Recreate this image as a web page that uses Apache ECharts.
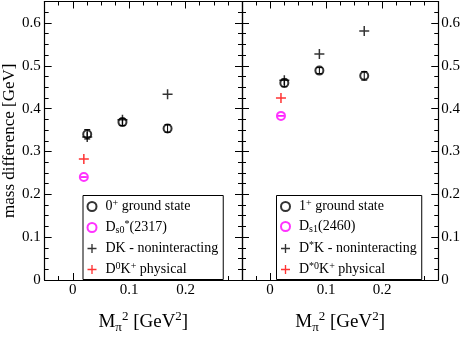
<!DOCTYPE html>
<html lang="en">
<head>
<meta charset="UTF-8">
<title>mass difference vs Mpi^2</title>
<script src="https://cdn.jsdelivr.net/npm/echarts@6/dist/echarts.min.js"></script>
<style>
  html, body { margin: 0; padding: 0; background: #fff; }
  #chart { width: 463px; height: 339px; }
</style>
</head>
<body>
<div id="chart"></div>
<script>
  // lattice ensembles, M_pi^2 in GeV^2
  var xLat = [0.0255, 0.088, 0.168];
  var xPhys = 0.0195;

  // left panel: 0+ channel
  var gs0 = [0.340, 0.3685, 0.3537];
  var gs0Err = [0.011, 0.008, 0.009];
  var dk0 = [0.334, 0.374, 0.4337];
  var ds0Exp = 0.2403;
  var dkPhys0 = 0.2823;

  // right panel: 1+ channel
  var gs1 = [0.460, 0.4887, 0.4765];
  var gs1Err = [0.009, 0.007, 0.010];
  var dk1 = [0.466, 0.5276, 0.581];
  var ds1Exp = 0.383;
  var dkPhys1 = 0.4247;
  var expErr = 0.0005;

  var names0 = ['0+ ground state', 'Ds0*(2317)', 'DK - noninteracting', 'D0K+ physical'];
  var names1 = ['1+ ground state', 'Ds1(2460)', 'D*K - noninteracting', 'D*0K+ physical'];
  var legendRich = {
    '0+ ground state': '{n|0}{sup|+}{n| ground state}',
    'Ds0*(2317)': '{n|D}{sub|s0}{sup|*}{n|(2317)}',
    'DK - noninteracting': '{n|DK - noninteracting}',
    'D0K+ physical': '{n|D}{sup|0}{n|K}{sup|+}{n| physical}',
    '1+ ground state': '{n|1}{sup|+}{n| ground state}',
    'Ds1(2460)': '{n|D}{sub|s1}{n|(2460)}',
    'D*K - noninteracting': '{n|D}{sup|*}{n|K - noninteracting}',
    'D*0K+ physical': '{n|D}{sup|*0}{n|K}{sup|+}{n| physical}'
  };

  var FONT = 'Liberation Serif';
  var PLUS = 'path://M4.25,0H5.75V4.25H10V5.75H5.75V10H4.25V5.75H0V4.25H4.25Z';

  function pairs(xs, ys) {
    return xs.map(function (x, i) { return [x, ys[i]]; });
  }
  function bars(xs, ys, es) {
    return xs.map(function (x, i) { return [x, ys[i] - es[i], ys[i] + es[i]]; });
  }

  function renderErr(params, api) {
    var lo = api.coord([api.value(0), api.value(1)]);
    var hi = api.coord([api.value(0), api.value(2)]);
    var w = 3;
    var st = { stroke: api.visual('color'), lineWidth: 1 };
    return {
      type: 'group',
      children: [
        { type: 'line', shape: { x1: lo[0], y1: lo[1], x2: hi[0], y2: hi[1] }, style: st },
        { type: 'line', shape: { x1: lo[0] - w, y1: lo[1], x2: lo[0] + w, y2: lo[1] }, style: st },
        { type: 'line', shape: { x1: hi[0] - w, y1: hi[1], x2: hi[0] + w, y2: hi[1] }, style: st }
      ]
    };
  }

  var tick = { inside: true, length: 7, lineStyle: { color: '#000', width: 1 } };
  var minor = { show: true, splitNumber: 4, length: 4, lineStyle: { color: '#000', width: 1 } };
  var line = { onZero: false, lineStyle: { color: '#000', width: 1.2 } };
  var labelStyle = { color: '#000', fontSize: 15, fontFamily: FONT };

  var xName = '{m|M}{sub|π}{sup|2}{m| [GeV}{sup|2}{m|]}';
  var xNameStyle = {
    color: '#000', fontFamily: FONT, fontSize: 19,
    rich: {
      m: { fontSize: 19, fontFamily: FONT, color: '#000', lineHeight: 24 },
      sub: { fontSize: 13, fontFamily: FONT, color: '#000', lineHeight: 10, verticalAlign: 'bottom' },
      sup: { fontSize: 13, fontFamily: FONT, color: '#000', lineHeight: 12, verticalAlign: 'top' }
    }
  };

  function xAx(g, pos, show) {
    return {
      gridIndex: g, type: 'value', position: pos, min: -0.05, max: 0.3, splitNumber: 4,
      axisLine: line, axisTick: tick, minorTick: minor,
      splitLine: { show: false },
      axisLabel: Object.assign({ show: show, margin: 3, showMinLabel: false, showMaxLabel: false }, labelStyle),
      name: show ? xName : '', nameLocation: 'middle', nameGap: 30, nameTextStyle: xNameStyle
    };
  }
  function yAx(g, pos, show) {
    return {
      gridIndex: g, type: 'value', position: pos, min: 0, max: 0.65, interval: 0.1,
      axisLine: line, axisTick: tick, minorTick: minor,
      splitLine: { show: false },
      axisLabel: Object.assign({ show: show, margin: 4, showMaxLabel: false }, labelStyle)
    };
  }

  var yA0 = yAx(0, 'left', true);
  yA0.name = 'mass difference [GeV]';
  yA0.nameLocation = 'middle';
  yA0.nameGap = 24;
  yA0.nameTextStyle = { color: '#000', fontSize: 17, fontFamily: FONT };
  var yA3 = yAx(1, 'right', true);
  yA3.axisLabel.margin = 3;

  var legendText = {
    color: '#000', fontFamily: FONT, fontSize: 14,
    rich: {
      n: { fontSize: 14, fontFamily: FONT, color: '#000', lineHeight: 16 },
      sup: { fontSize: 10, fontFamily: FONT, color: '#000', lineHeight: 10, verticalAlign: 'top' },
      sub: { fontSize: 10, fontFamily: FONT, color: '#000', lineHeight: 8, verticalAlign: 'bottom' }
    }
  };
  function legend(left, names) {
    return {
      orient: 'vertical', left: left, top: 195.5, data: names,
      itemWidth: 17, itemHeight: 9, itemGap: 6, padding: [3, 5, 3, 3.5],
      borderColor: '#000', borderWidth: 1, backgroundColor: '#fff',
      selectedMode: false, textStyle: legendText,
      formatter: function (n) { return legendRich[n]; }
    };
  }

  function circles(name, g, data, color) {
    return {
      name: name, type: 'scatter', xAxisIndex: g, yAxisIndex: g, data: data,
      symbol: 'emptyCircle', symbolSize: 8,
      itemStyle: { color: color, borderColor: color, borderWidth: 1 }
    };
  }
  function pluses(name, g, data, color) {
    return {
      name: name, type: 'scatter', xAxisIndex: g, yAxisIndex: g, data: data,
      symbol: PLUS, symbolSize: 10, itemStyle: { color: color }
    };
  }
  function errs(g, data, color) {
    return {
      type: 'custom', xAxisIndex: g, yAxisIndex: g, data: data, z: 5,
      renderItem: renderErr, itemStyle: { color: color }, encode: { x: 0, y: [1, 2] }
    };
  }

  var chart = echarts.init(document.getElementById('chart'), null, { renderer: 'canvas' });
  chart.setOption({
    animation: false,
    grid: [
      { left: 44, top: 1.5, width: 198, bottom: 48.5 },
      { left: 242, top: 1.5, width: 197.5, bottom: 48.5 }
    ],
    xAxis: [xAx(0, 'bottom', true), xAx(0, 'top', false), xAx(1, 'bottom', true), xAx(1, 'top', false)],
    yAxis: [yA0, yAx(0, 'right', false), yAx(1, 'left', false), yA3],
    legend: [legend(83, names0), legend(276.5, names1)],
    series: [
      circles(names0[0], 0, pairs(xLat, gs0), '#000'),
      circles(names0[1], 0, [[xPhys, ds0Exp]], '#ff00ff'),
      pluses(names0[2], 0, pairs(xLat, dk0), '#000'),
      pluses(names0[3], 0, [[xPhys, dkPhys0]], '#ff0000'),
      errs(0, bars(xLat, gs0, gs0Err), '#000'),
      errs(0, [[xPhys, ds0Exp - expErr, ds0Exp + expErr]], '#ff00ff'),

      circles(names1[0], 2, pairs(xLat, gs1), '#000'),
      circles(names1[1], 2, [[xPhys, ds1Exp]], '#ff00ff'),
      pluses(names1[2], 2, pairs(xLat, dk1), '#000'),
      pluses(names1[3], 2, [[xPhys, dkPhys1]], '#ff0000'),
      errs(2, bars(xLat, gs1, gs1Err), '#000'),
      errs(2, [[xPhys, ds1Exp - expErr, ds1Exp + expErr]], '#ff00ff')
    ]
  });
</script>
</body>
</html>
